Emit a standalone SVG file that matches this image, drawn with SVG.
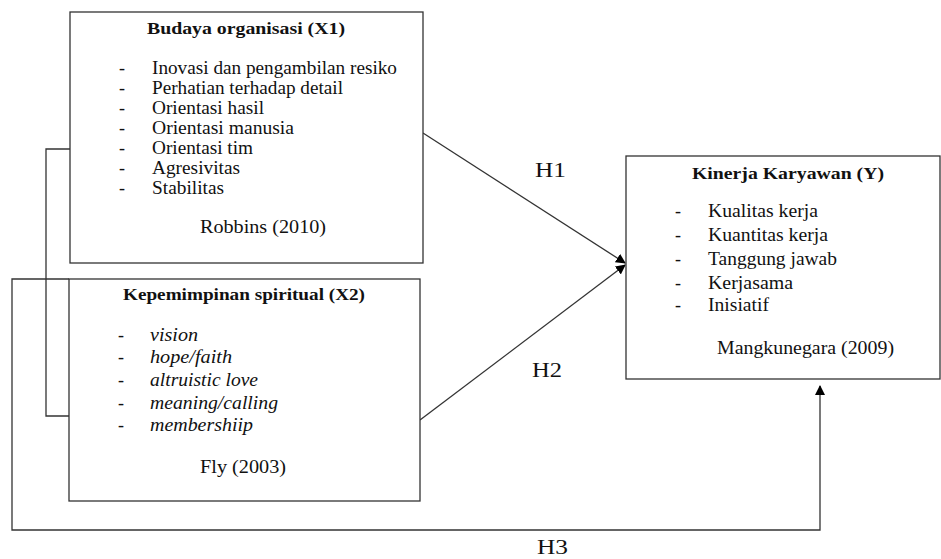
<svg xmlns="http://www.w3.org/2000/svg" width="941" height="559" viewBox="0 0 941 559">
<defs>
<marker id="arr" markerWidth="10" markerHeight="10" refX="9" refY="5" orient="auto" markerUnits="userSpaceOnUse">
<path d="M0,0 L10,5 L0,10 Z" fill="#000"/>
</marker>
<style>
text{font-family:"Liberation Serif","Times New Roman",serif;font-size:18px;fill:#111}
.t{font-weight:bold;font-size:17.5px}
.i{font-style:italic}
.h{font-size:20px}
.box{fill:#fff;stroke:#333;stroke-width:1.3}
.ln{fill:none;stroke:#333;stroke-width:1.3}
</style>
</defs>
<rect width="941" height="559" fill="#fff"/>
<g id="connectors">
<polyline class="ln" points="70,149 46,149 46,416 69,416"/>
<polyline class="ln" points="69,279 12,279 12,530 820,530 820,386" marker-end="url(#arr)"/>
<line class="ln" x1="423" y1="133" x2="625" y2="263" marker-end="url(#arr)"/>
<line class="ln" x1="420" y1="420" x2="625" y2="265" marker-end="url(#arr)"/>
<text class="h" x="535" y="177" textLength="31" lengthAdjust="spacingAndGlyphs">H1</text>
<text class="h" x="532" y="377" textLength="30" lengthAdjust="spacingAndGlyphs">H2</text>
<text class="h" x="537" y="554" textLength="31" lengthAdjust="spacingAndGlyphs">H3</text>
</g>
<g id="x1">
<rect class="box" x="70" y="12" width="353" height="251"/>
<text class="t" x="147" y="34" textLength="198" lengthAdjust="spacingAndGlyphs">Budaya organisasi (X1)</text>
<text x="119" y="74">-</text><text x="152" y="74" textLength="245" lengthAdjust="spacingAndGlyphs">Inovasi dan pengambilan resiko</text>
<text x="119" y="94">-</text><text x="152" y="94" textLength="191" lengthAdjust="spacingAndGlyphs">Perhatian terhadap detail</text>
<text x="119" y="114">-</text><text x="152" y="114" textLength="112" lengthAdjust="spacingAndGlyphs">Orientasi hasil</text>
<text x="119" y="134">-</text><text x="152" y="134" textLength="142" lengthAdjust="spacingAndGlyphs">Orientasi manusia</text>
<text x="119" y="154">-</text><text x="152" y="154" textLength="101" lengthAdjust="spacingAndGlyphs">Orientasi tim</text>
<text x="119" y="174">-</text><text x="152" y="174" textLength="88" lengthAdjust="spacingAndGlyphs">Agresivitas</text>
<text x="119" y="194">-</text><text x="152" y="194" textLength="72" lengthAdjust="spacingAndGlyphs">Stabilitas</text>
<text x="200" y="233" textLength="126" lengthAdjust="spacingAndGlyphs">Robbins (2010)</text>
</g>
<g id="x2">
<rect class="box" x="69" y="279" width="351" height="222"/>
<text class="t" x="123" y="300" textLength="242" lengthAdjust="spacingAndGlyphs">Kepemimpinan spiritual (X2)</text>
<text x="118" y="341">-</text><text class="i" x="150" y="341" textLength="48" lengthAdjust="spacingAndGlyphs">vision</text>
<text x="118" y="363">-</text><text class="i" x="150" y="363" textLength="82" lengthAdjust="spacingAndGlyphs">hope/faith</text>
<text x="118" y="386">-</text><text class="i" x="150" y="386" textLength="108" lengthAdjust="spacingAndGlyphs">altruistic love</text>
<text x="118" y="409">-</text><text class="i" x="150" y="409" textLength="128" lengthAdjust="spacingAndGlyphs">meaning/calling</text>
<text x="118" y="431">-</text><text class="i" x="150" y="431" textLength="103" lengthAdjust="spacingAndGlyphs">membershiip</text>
<text x="200" y="473" textLength="86" lengthAdjust="spacingAndGlyphs">Fly (2003)</text>
</g>
<g id="y">
<rect class="box" x="626" y="156" width="314" height="223"/>
<text class="t" x="692" y="179" textLength="192" lengthAdjust="spacingAndGlyphs">Kinerja Karyawan (Y)</text>
<text x="675" y="217">-</text><text x="708" y="217" textLength="110" lengthAdjust="spacingAndGlyphs">Kualitas kerja</text>
<text x="675" y="241">-</text><text x="708" y="241" textLength="120" lengthAdjust="spacingAndGlyphs">Kuantitas kerja</text>
<text x="675" y="265">-</text><text x="708" y="265" textLength="129" lengthAdjust="spacingAndGlyphs">Tanggung jawab</text>
<text x="675" y="289">-</text><text x="708" y="289" textLength="85" lengthAdjust="spacingAndGlyphs">Kerjasama</text>
<text x="675" y="311">-</text><text x="708" y="311" textLength="61" lengthAdjust="spacingAndGlyphs">Inisiatif</text>
<text x="717" y="354" textLength="177" lengthAdjust="spacingAndGlyphs">Mangkunegara (2009)</text>
</g>
</svg>
